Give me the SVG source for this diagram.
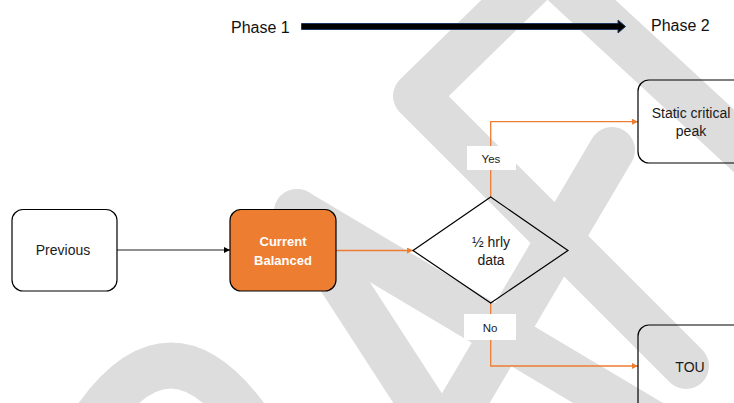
<svg xmlns="http://www.w3.org/2000/svg" width="734" height="403" viewBox="0 0 734 403">
<defs>
<style>
.wm{fill:none;stroke:#dddddd;stroke-width:46;stroke-linecap:round;stroke-linejoin:round}
.box{stroke:#000;stroke-width:1.2}
.t{font-family:"Liberation Sans",Arial,sans-serif;font-size:14px;fill:#1a1a1a;text-anchor:middle}
.tb{font-family:"Liberation Sans",Arial,sans-serif;font-size:13px;font-weight:bold;fill:#fff;text-anchor:middle}
.lbl{font-family:"Liberation Sans",Arial,sans-serif;font-size:11.5px;fill:#1a1a1a;text-anchor:middle}
.ph{font-family:"Liberation Sans",Arial,sans-serif;font-size:16px;fill:#111;text-anchor:start}
.oc{fill:none;stroke:#ED7D31;stroke-width:1.3}
.bc{fill:none;stroke:#222;stroke-width:1.1}
</style>
<marker id="ao" viewBox="0 0 10 10" refX="10" refY="5" markerWidth="7" markerHeight="6" markerUnits="userSpaceOnUse" orient="auto"><path d="M0,0 L10,5 L0,10 z" fill="#ED7D31"/></marker>
<marker id="ab" viewBox="0 0 10 10" refX="10" refY="5" markerWidth="7" markerHeight="6" markerUnits="userSpaceOnUse" orient="auto"><path d="M0,0 L10,5 L0,10 z" fill="#000"/></marker>
</defs>
<rect width="734" height="403" fill="#fff"/>
<g id="watermark">
<path class="wm" d="M760 165 L547 -32 L416 96 L686 366"/>
<path class="wm" d="M612 150 L450 425"/>
<path class="wm" d="M297 212 L655 425"/>
<path class="wm" d="M297 212 L435 425"/>
<path class="wm" d="M85 435 Q170 296 258 435"/>
</g>
<g id="phase-arrow">
<path d="M301.5 23.5 L618 23.5 L618 20 L625.5 26.5 L618 33 L618 29.5 L301.5 29.5 Z" fill="#000" stroke="#1F3864" stroke-width="1"/>
<text class="ph" x="231" y="33">Phase 1</text>
<text class="ph" x="651" y="31">Phase 2</text>
</g>
<g id="connectors">
<path class="bc" d="M117 250 L230 250" marker-end="url(#ab)"/>
<path class="oc" d="M336 250.5 L413 250.5" marker-end="url(#ao)"/>
<path class="oc" d="M490.7 197 L490.7 121.7 L638 121.7" marker-end="url(#ao)"/>
<path class="oc" d="M490.7 303 L490.7 366 L638 366" marker-end="url(#ao)"/>
<g id="label-yes"><rect x="467" y="146" width="49" height="24" fill="#fff"/><text class="lbl" x="491" y="162.5">Yes</text></g>
<g id="label-no"><rect x="464" y="314" width="52" height="26" fill="#fff"/><text class="lbl" x="490" y="331.5">No</text></g>
</g>
<g id="node-previous">
<rect class="box" x="12" y="209.5" width="105" height="81.5" rx="11" fill="#fff"/>
<text class="t" x="63" y="255">Previous</text>
</g>
<g id="node-current">
<rect class="box" x="230" y="209.5" width="106" height="81.5" rx="11" fill="#ED7D31"/>
<text class="tb" x="283" y="246">Current</text>
<text class="tb" x="283" y="264.5">Balanced</text>
</g>
<g id="node-decision">
<path class="box" d="M490.7 197 L568 250.5 L490.7 303 L413 250.5 Z" fill="none"/>
<text class="t" x="491" y="246.5">½ hrly</text>
<text class="t" x="491" y="264.5">data</text>
</g>
<g id="node-static">
<rect class="box" x="638" y="80" width="110" height="83" rx="11" fill="none"/>
<text class="t" x="691" y="118">Static critical</text>
<text class="t" x="691" y="136">peak</text>
</g>
<g id="node-tou">
<rect class="box" x="638" y="325" width="110" height="90" rx="11" fill="none"/>
<text class="t" x="690" y="372">TOU</text>
</g>
</svg>
